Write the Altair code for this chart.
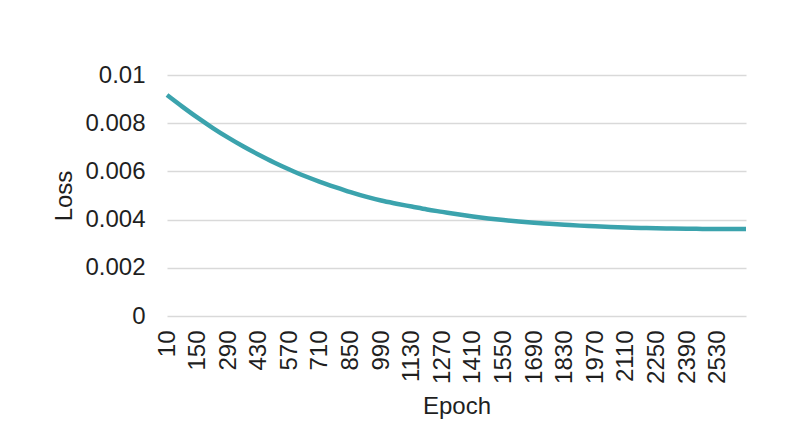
import altair as alt
import pandas as pd

epochs = [10, 80, 150, 220, 290, 360, 430, 500, 570, 640, 710, 780, 850, 920, 990,
          1060, 1130, 1200, 1270, 1340, 1410, 1480, 1550, 1620, 1690, 1760, 1830,
          1900, 1970, 2040, 2110, 2180, 2250, 2320, 2390, 2460, 2530, 2600, 2660]
loss = [0.00917, 0.00869, 0.00823, 0.00780, 0.00740, 0.00703, 0.00669, 0.00637,
        0.00608, 0.00581, 0.00557, 0.00535, 0.00514, 0.00495, 0.00479, 0.00466,
        0.00454, 0.00442, 0.00432, 0.00422, 0.00413, 0.00405, 0.00398, 0.00392,
        0.00387, 0.00383, 0.00379, 0.00375, 0.00372, 0.00369, 0.00367, 0.003655,
        0.00364, 0.00363, 0.00362, 0.003615, 0.00361, 0.00361, 0.00361]
x_ticks = [10, 150, 290, 430, 570, 710, 850, 990, 1130, 1270, 1410, 1550, 1690,
           1830, 1970, 2110, 2250, 2390, 2530]
y_ticks = [0, 0.002, 0.004, 0.006, 0.008, 0.01]

df = pd.DataFrame({"Epoch": epochs, "Loss": loss})

FONT = "Liberation Sans"
TXT = "#1f1f1f"
FS = 24

chart = (
    alt.Chart(df)
    .mark_line(color="#3BA3AD", strokeWidth=4.5, interpolate="monotone")
    .encode(
        x=alt.X(
            "Epoch:Q",
            scale=alt.Scale(domain=[10, 2660], nice=False, zero=False),
            axis=alt.Axis(
                values=x_ticks,
                format="d",
                labelAngle=-90,
                grid=False,
                ticks=False,
                domain=False,
                labelPadding=14,
                labelFontSize=FS,
                labelFont=FONT,
                labelColor=TXT,
                labelOverlap=False,
                labelFlush=False,
                title="Epoch",
                titleFont=FONT,
                titleFontSize=FS,
                titleFontWeight="normal",
                titleColor=TXT,
                titlePadding=11,
            ),
        ),
        y=alt.Y(
            "Loss:Q",
            scale=alt.Scale(domain=[0, 0.01], nice=False),
            axis=alt.Axis(
                values=y_ticks,
                format="~g",
                grid=True,
                gridColor="#d9d9d9",
                gridWidth=1.5,
                ticks=False,
                domain=False,
                labelPadding=22,
                labelFontSize=FS,
                labelFont=FONT,
                labelColor=TXT,
                labelFlush=False,
                title="Loss",
                titleFont=FONT,
                titleFontSize=FS,
                titleFontWeight="normal",
                titleColor=TXT,
                titlePadding=8,
            ),
        ),
    )
    .properties(
        width=579,
        height=241,
        autosize=alt.AutoSizeParams(type="none"),
        padding={"left": 159, "top": 67, "right": 35, "bottom": 120},
    )
    .configure_view(stroke=None)
)

chart.save("out.html", embed_options={"renderer": "svg", "actions": False})
